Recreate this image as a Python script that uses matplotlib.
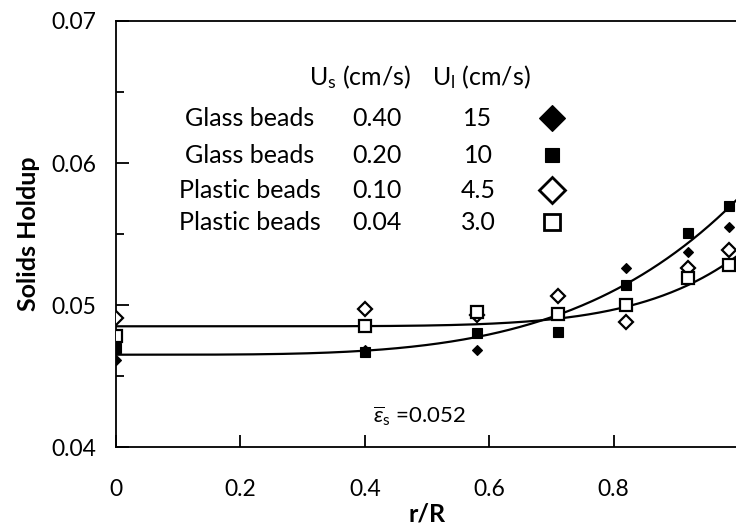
import numpy as np
import matplotlib
matplotlib.use("Agg")
import matplotlib.pyplot as plt

plt.rcParams['font.family'] = ['Lato', 'DejaVu Sans']
plt.rcParams['mathtext.fontset'] = 'custom'
plt.rcParams['mathtext.rm'] = 'Lato'
plt.rcParams['mathtext.it'] = 'Lato:italic'
plt.rcParams['mathtext.bf'] = 'Lato:bold'

# Radial positions (r/R) of the measurements
r_pos = [0.0, 0.4, 0.58, 0.71, 0.82, 0.92, 0.985]

# Solids holdup for each run
glass_040 = [0.0461, 0.0468, 0.0468, 0.0481, 0.0526, 0.0537, 0.0555]   # filled diamond
glass_020 = [0.0470, 0.0467, 0.0480, 0.0481, 0.0514, 0.0551, 0.0570]   # filled square
plastic_010 = [0.0491, 0.0497, 0.0493, 0.0506, 0.0488, 0.0526, 0.0539]  # open diamond
plastic_004 = [0.0478, 0.0485, 0.0495, 0.0494, 0.0500, 0.0519, 0.0528]  # open square

materials = ["Glass beads", "Glass beads", "Plastic beads", "Plastic beads"]
us_vals = ["0.40", "0.20", "0.10", "0.04"]
ul_vals = ["15", "10", "4.5", "3.0"]

# Fitted radial profiles: eps = base + amp * (r/R)**n
glass_fit = dict(base=0.0465, amp=0.0110, n=4.0)
plastic_fit = dict(base=0.0485, amp=0.0050, n=6.5)

mean_holdup = "0.052"

fig = plt.figure(figsize=(7.36, 5.29), dpi=100)
ax = fig.add_axes([116 / 736, 1 - 447 / 529, 622 / 736, 426 / 529])

ax.set_xlim(0, 1.0)
ax.set_ylim(0.04, 0.07)

styles = [
    dict(marker='D', color='black', markerfacecolor='black', ms=5.5, mew=0.8),
    dict(marker='s', color='black', markerfacecolor='black', ms=6.5, mew=0.8),
    dict(marker='D', color='black', markerfacecolor='white', ms=7.5, mew=1.6),
    dict(marker='s', color='black', markerfacecolor='white', ms=8.0, mew=1.6),
]
series = [glass_040, glass_020, plastic_010, plastic_004]

rr = np.linspace(0, 1.0, 300)
for fit in (glass_fit, plastic_fit):
    ax.plot(rr, fit['base'] + fit['amp'] * rr ** fit['n'], color='black', lw=1.6, zorder=2)

for vals, st in zip(series, styles):
    ax.plot(r_pos, vals, linestyle='none', zorder=3, **st)

# Legend table
fs = 18
ax.text(0.392, 0.869, "U$_{\\mathrm{s}}$ (cm/s)", transform=ax.transAxes,
        ha='center', va='center', fontsize=fs)
ax.text(0.587, 0.869, "U$_{\\mathrm{l}}$ (cm/s)", transform=ax.transAxes,
        ha='center', va='center', fontsize=fs)
row_y = [0.772, 0.685, 0.603, 0.528]
legend_sizes = [13, 10, 13.5, 11]
for i, (mat, us, ul, st, y) in enumerate(zip(materials, us_vals, ul_vals, styles, row_y)):
    ax.text(0.215, y, mat, transform=ax.transAxes, ha='center', va='center', fontsize=fs)
    ax.text(0.420, y, us, transform=ax.transAxes, ha='center', va='center', fontsize=fs)
    ax.text(0.582, y, ul, transform=ax.transAxes, ha='center', va='center', fontsize=fs)
    lst = dict(st)
    lst['ms'] = legend_sizes[i]
    lst['mew'] = 2.0 if lst['markerfacecolor'] == 'white' else 0.8
    ax.plot([0.701], [y], transform=ax.transAxes, linestyle='none', clip_on=False, **lst)

ax.text(0.413, 0.072, r"$\overline{\varepsilon}_{\mathrm{s}}$ =" + mean_holdup,
        transform=ax.transAxes, ha='left', va='center', fontsize=16)

# Axes styling
ax.spines['right'].set_visible(False)
for s in ('left', 'bottom', 'top'):
    ax.spines[s].set_linewidth(1.3)
ax.set_xticks([0, 0.2, 0.4, 0.6, 0.8])
ax.set_xticklabels(["0", "0.2", "0.4", "0.6", "0.8"])
ax.set_yticks([0.04, 0.05, 0.06, 0.07])
ax.set_yticklabels(["0.04", "0.05", "0.06", "0.07"])
ax.set_yticks([0.045, 0.055, 0.065], minor=True)
ax.tick_params(axis='both', which='major', direction='in', length=9, width=1.3,
               labelsize=16.5, top=False, right=False)
ax.tick_params(axis='y', which='major', pad=14)
ax.tick_params(axis='x', which='major', pad=23)
ax.tick_params(axis='y', which='minor', direction='in', length=6, width=1.3)

ax.set_xlabel("r/R", fontsize=18, fontweight='bold', labelpad=2)
ax.set_ylabel("Solids Holdup", fontsize=18, fontweight='bold', labelpad=8)

fig.savefig("out.png", dpi=100)
